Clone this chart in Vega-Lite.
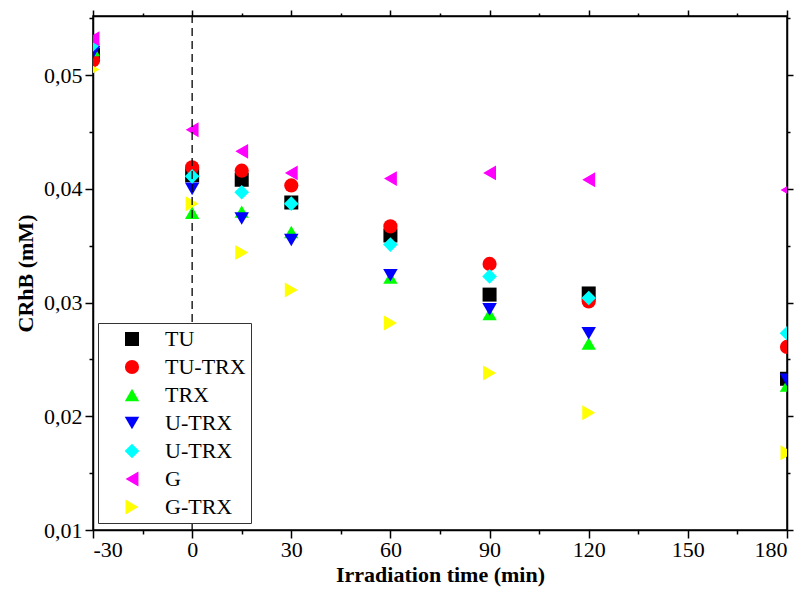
{
  "$schema": "https://vega.github.io/schema/vega-lite/v6.json",
  "width": 694,
  "height": 514,
  "autosize": {"type": "none"},
  "padding": {"left": 93, "top": 16, "right": 16, "bottom": 64},
  "background": "white",
  "config": {
    "font": "Liberation Serif",
    "view": {"stroke": "black", "strokeWidth": 1.5},
    "axis": {
      "grid": false,
      "domainColor": "black",
      "domainWidth": 1.5,
      "tickColor": "black",
      "tickWidth": 1.5,
      "labelColor": "black",
      "labelFontSize": 22,
      "labelFont": "Liberation Serif",
      "titleFont": "Liberation Serif",
      "titleFontSize": 22,
      "titleFontWeight": "bold",
      "titleColor": "black"
    }
  },
  "datasets": {
    "main": [
      {"t": -30, "c": 0.0518, "s": "TU"},
      {"t": 0, "c": 0.0412, "s": "TU"},
      {"t": 15, "c": 0.0408, "s": "TU"},
      {"t": 30, "c": 0.0388, "s": "TU"},
      {"t": 60, "c": 0.0359, "s": "TU"},
      {"t": 90, "c": 0.0307, "s": "TU"},
      {"t": 120, "c": 0.0308, "s": "TU"},
      {"t": 180, "c": 0.0233, "s": "TU"},
      {"t": -30, "c": 0.0513, "s": "TU-TRX"},
      {"t": 0, "c": 0.0419, "s": "TU-TRX"},
      {"t": 15, "c": 0.0416, "s": "TU-TRX"},
      {"t": 30, "c": 0.0403, "s": "TU-TRX"},
      {"t": 60, "c": 0.0367, "s": "TU-TRX"},
      {"t": 90, "c": 0.0334, "s": "TU-TRX"},
      {"t": 120, "c": 0.0301, "s": "TU-TRX"},
      {"t": 180, "c": 0.0261, "s": "TU-TRX"},
      {"t": -30, "c": 0.0522, "s": "TRX"},
      {"t": 0, "c": 0.0379, "s": "TRX"},
      {"t": 15, "c": 0.0380, "s": "TRX"},
      {"t": 30, "c": 0.0362, "s": "TRX"},
      {"t": 60, "c": 0.0322, "s": "TRX"},
      {"t": 90, "c": 0.0290, "s": "TRX"},
      {"t": 120, "c": 0.0264, "s": "TRX"},
      {"t": 180, "c": 0.0227, "s": "TRX"},
      {"t": -30, "c": 0.0520, "s": "U-TRX"},
      {"t": 0, "c": 0.0400, "s": "U-TRX"},
      {"t": 15, "c": 0.0374, "s": "U-TRX"},
      {"t": 30, "c": 0.0355, "s": "U-TRX"},
      {"t": 60, "c": 0.0324, "s": "U-TRX"},
      {"t": 90, "c": 0.0294, "s": "U-TRX"},
      {"t": 120, "c": 0.0273, "s": "U-TRX"},
      {"t": 180, "c": 0.0232, "s": "U-TRX"},
      {"t": -30, "c": 0.0527, "s": "U-TRX "},
      {"t": 0, "c": 0.0411, "s": "U-TRX "},
      {"t": 15, "c": 0.0397, "s": "U-TRX "},
      {"t": 30, "c": 0.0387, "s": "U-TRX "},
      {"t": 60, "c": 0.0351, "s": "U-TRX "},
      {"t": 90, "c": 0.0323, "s": "U-TRX "},
      {"t": 120, "c": 0.0304, "s": "U-TRX "},
      {"t": 180, "c": 0.0273, "s": "U-TRX "},
      {"t": -30, "c": 0.0532, "s": "G"},
      {"t": 0, "c": 0.0452, "s": "G"},
      {"t": 15, "c": 0.0433, "s": "G"},
      {"t": 30, "c": 0.0414, "s": "G"},
      {"t": 60, "c": 0.0409, "s": "G"},
      {"t": 90, "c": 0.0414, "s": "G"},
      {"t": 120, "c": 0.0408, "s": "G"},
      {"t": 180, "c": 0.0399, "s": "G"},
      {"t": -30, "c": 0.0505, "s": "G-TRX"},
      {"t": 0, "c": 0.0387, "s": "G-TRX"},
      {"t": 15, "c": 0.0344, "s": "G-TRX"},
      {"t": 30, "c": 0.0311, "s": "G-TRX"},
      {"t": 60, "c": 0.0282, "s": "G-TRX"},
      {"t": 90, "c": 0.0238, "s": "G-TRX"},
      {"t": 120, "c": 0.0203, "s": "G-TRX"},
      {"t": 180, "c": 0.0168, "s": "G-TRX"}
    ],
    "rule": [{"t": 0}]
  },
  "layer": [
    {
      "data": {"name": "main"},
      "mark": {"type": "point", "filled": true, "opacity": 1, "clip": true},
      "encoding": {
        "x": {
          "field": "t", "type": "quantitative",
          "scale": {"domain": [-30, 180], "nice": false, "zero": false},
          "axis": {
            "orient": "bottom",
            "values": [-30, -15, 0, 15, 30, 45, 60, 75, 90, 105, 120, 135, 150, 165, 180],
            "labelExpr": "datum.value % 30 == 0 ? '' + datum.value : ''",
            "tickSize": {"condition": {"test": "datum.value % 30 == 0", "value": 8}, "value": 4},
            "labelPadding": 1,
            "title": "Irradiation time (min)",
            "titlePadding": 4
          }
        },
        "y": {
          "field": "c", "type": "quantitative",
          "scale": {"domain": [0.01, 0.0552], "nice": false, "zero": false},
          "axis": {
            "orient": "left",
            "values": [0.01, 0.015, 0.02, 0.025, 0.03, 0.035, 0.04, 0.045, 0.05, 0.055],
            "labelExpr": "round(datum.value * 1000) % 10 == 0 ? replace(format(datum.value, '.2f'), '.', ',') : ''",
            "tickSize": {"condition": {"test": "round(datum.value * 1000) % 10 == 0", "value": 8}, "value": 4},
            "labelPadding": 3,
            "title": "CRhB (mM)",
            "titlePadding": 6
          }
        },
        "color": {
          "field": "s", "type": "nominal",
          "scale": {
            "domain": ["TU", "TU-TRX", "TRX", "U-TRX", "U-TRX ", "G", "G-TRX"],
            "range": ["#000000", "#FF0000", "#00FF00", "#0000FF", "#00FFFF", "#FF00FF", "#FFFF00"]
          },
          "legend": {
            "title": null,
            "orient": "none",
            "legendX": 5,
            "legendY": 307,
            "strokeColor": "#333333",
            "fillColor": "white",
            "padding": 5,
            "symbolOffset": 18,
            "symbolStrokeWidth": 0,
            "labelFontSize": 22,
            "labelFont": "Liberation Serif",
            "labelColor": "black",
            "labelOffset": 22,
            "rowPadding": 6,
            "labelLimit": 200
          }
        },
        "shape": {
          "field": "s", "type": "nominal",
          "scale": {
            "domain": ["TU", "TU-TRX", "TRX", "U-TRX", "U-TRX ", "G", "G-TRX"],
            "range": ["square", "circle", "triangle-up", "triangle-down", "diamond", "triangle-left", "triangle-right"]
          }
        },
        "size": {
          "field": "s", "type": "nominal",
          "scale": {
            "domain": ["TU", "TU-TRX", "TRX", "U-TRX", "U-TRX ", "G", "G-TRX"],
            "range": [196, 225, 300, 300, 330, 300, 300]
          }
        }
      }
    },
    {
      "data": {"name": "rule"},
      "mark": {"type": "rule", "color": "black", "strokeWidth": 1.3, "strokeDash": [8, 5]},
      "encoding": {
        "x": {
          "field": "t", "type": "quantitative",
          "axis": {
            "orient": "top",
            "values": [-30, -15, 0, 15, 30, 45, 60, 75, 90, 105, 120, 135, 150, 165, 180],
            "labels": false,
            "title": null,
            "tickSize": {"condition": {"test": "datum.value % 30 == 0", "value": 6}, "value": 3}
          }
        },
        "y": {
          "datum": 0.01, "type": "quantitative",
          "axis": {
            "orient": "right",
            "values": [0.01, 0.015, 0.02, 0.025, 0.03, 0.035, 0.04, 0.045, 0.05, 0.055],
            "labels": false,
            "title": null,
            "tickSize": {"condition": {"test": "round(datum.value * 1000) % 10 == 0", "value": 6}, "value": 3}
          }
        },
        "y2": {"datum": 0.0552}
      }
    }
  ],
  "resolve": {"axis": {"x": "independent", "y": "independent"}}
}
